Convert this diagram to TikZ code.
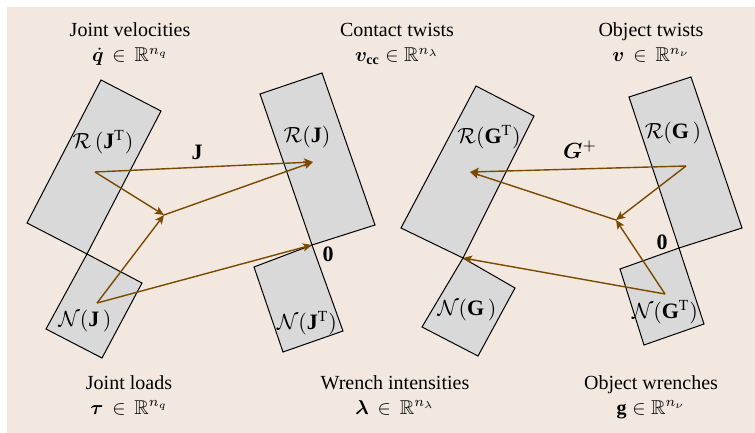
\documentclass[tikz,border=0pt]{standalone}
\usepackage{amsmath,amssymb,bm}
\usepackage{fontspec}
\setmainfont{Liberation Serif}
\usetikzlibrary{arrows.meta, positioning}
\definecolor{paperbeige}{RGB}{242,232,223}
\definecolor{spacegray}{RGB}{217,217,217}
\definecolor{mapbrown}{RGB}{122,74,0}

\begin{document}
\begin{tikzpicture}[
			x={(0.5pt,0pt)}, y={(0pt,-0.5pt)},
			space/.style={draw=black, fill=spacegray, line width=0.5pt},
			map/.style={-{Stealth[length=4.5pt, width=4pt, inset=1pt]}, draw=mapbrown, line width=0.7pt},
			title/.style={anchor=base, inner sep=0pt, font=\fontsize{10}{12}\selectfont},
			spacelabel/.style={inner sep=1pt, font=\fontsize{11}{13}\selectfont}
		]
		\useasboundingbox (0,0) rectangle (755,433);
		\fill[paperbeige] (7,7) rectangle (755,433);
		
		% Subspaces as rectangles
		\filldraw[space] (101,80) -- (161,111) -- (87,254) -- (27,223) -- cycle;
		\filldraw[space] (87,254) -- (142,283) -- (102,358) -- (46,329) -- cycle;
		\filldraw[space] (260,94) -- (322,73) -- (375,225) -- (312,245) -- cycle;
		\filldraw[space] (312,245) -- (254,267) -- (283,352) -- (343,331) -- cycle;
		\filldraw[space] (476,86) -- (534,116) -- (463,258) -- (401,228) -- cycle;
		\filldraw[space] (463,258) -- (515,288) -- (478,356) -- (422,327) -- cycle;
		\filldraw[space] (629,97) -- (691,77) -- (742,228) -- (679,248) -- cycle;
		\filldraw[space] (679,248) -- (620,269) -- (644,345) -- (704,324) -- cycle;
		
		\node[spacelabel] (rjt) at (103,142) {$\mathcal{R}\,(\mathbf{J}^{\mathrm{T}})$};
		\node[spacelabel] (nj) at (85,321) {$\mathcal{N}(\mathbf{J}\,)$};
		\node[spacelabel] (rj) at (307,137) {$\mathcal{R}(\mathbf{J})$};
		\node[spacelabel] (njt) at (307,323) {$\mathcal{N}(\mathbf{J}^{\mathrm{T}})$};
		\node[spacelabel] (rgt) at (489,137) {$\mathcal{R}(\mathbf{G}^{\mathrm{T}})$};
		\node[spacelabel] (ng) at (467,310) {$\mathcal{N}(\mathbf{G}\,)$};
		\node[spacelabel] (rg) at (673,133) {$\mathcal{R}(\mathbf{G}\,)$};
		\node[spacelabel] (ngt) at (665,312) {$\mathcal{N}(\mathbf{G}^{\mathrm{T}})$};
		
		% Points inside the spaces
		\coordinate (qr) at (95,172);
		\coordinate (qn) at (97,303);
		\coordinate (qs) at (164,215);
		\coordinate (vj) at (313,162);
		\coordinate (zl) at (312,245);
		\coordinate (vo) at (686,166);
		\coordinate (gn) at (665,294);
		\coordinate (gs) at (616,220);
		\coordinate (cr) at (470,172);
		\coordinate (zr) at (463,258);
		
		\draw[map] (qr) -- (vj);
		\draw[map] (qr) -- (qs);
		\draw[map] (qn) -- (qs);
		\draw[map] (qs) -- (vj);
		\draw[map] (qn) -- (zl);
		
		\draw[map] (vo) -- (cr);
		\draw[map] (vo) -- (gs);
		\draw[map] (gn) -- (gs);
		\draw[map] (gs) -- (cr);
		\draw[map] (gn) -- (zr);
		
		\node[spacelabel] (jmap) at (197,152) {$\mathbf{J}$};
		\node[spacelabel] (gplus) at (580,150) {$\bm{G}^{+}$};
		\node[spacelabel] (zero1) at (328,254) {$\mathbf{0}$};
		\node[spacelabel] (zero2) at (662,242) {$\mathbf{0}$};
		
		% Titles above and below
		\node[title] (jvel) at (130,37) {Joint velocities};
		\node[title] (jvelf) at ([yshift=-12.5pt]jvel.base) {$\bm{\dot{q}} \,\in\, \mathbb{R}^{n_q}$};
		\node[title] (ctw) at (397,37) {Contact twists};
		\node[title] (ctwf) at ([yshift=-12.5pt]ctw.base) {$\bm{v}_{\mathbf{cc}} \in \mathbb{R}^{n_\lambda}$};
		\node[title] (otw) at (651,37) {Object twists};
		\node[title] (otwf) at ([yshift=-12.5pt]otw.base) {$\bm{v} \,\in\, \mathbb{R}^{n_\nu}$};
		\node[title] (jld) at (129,389) {Joint loads};
		\node[title] (jldf) at ([yshift=-12.5pt]jld.base) {$\bm{\tau} \,\in\, \mathbb{R}^{n_q}$};
		\node[title] (wri) at (395,389) {Wrench intensities};
		\node[title] (wrif) at ([yshift=-12.5pt]wri.base) {$\bm{\lambda} \,\in\, \mathbb{R}^{n_\lambda}$};
		\node[title] (owr) at (651,389) {Object wrenches};
		\node[title] (owrf) at ([yshift=-12.5pt]owr.base) {$\mathbf{g} \in \mathbb{R}^{n_\nu}$};
		\end{tikzpicture}
\end{document}
